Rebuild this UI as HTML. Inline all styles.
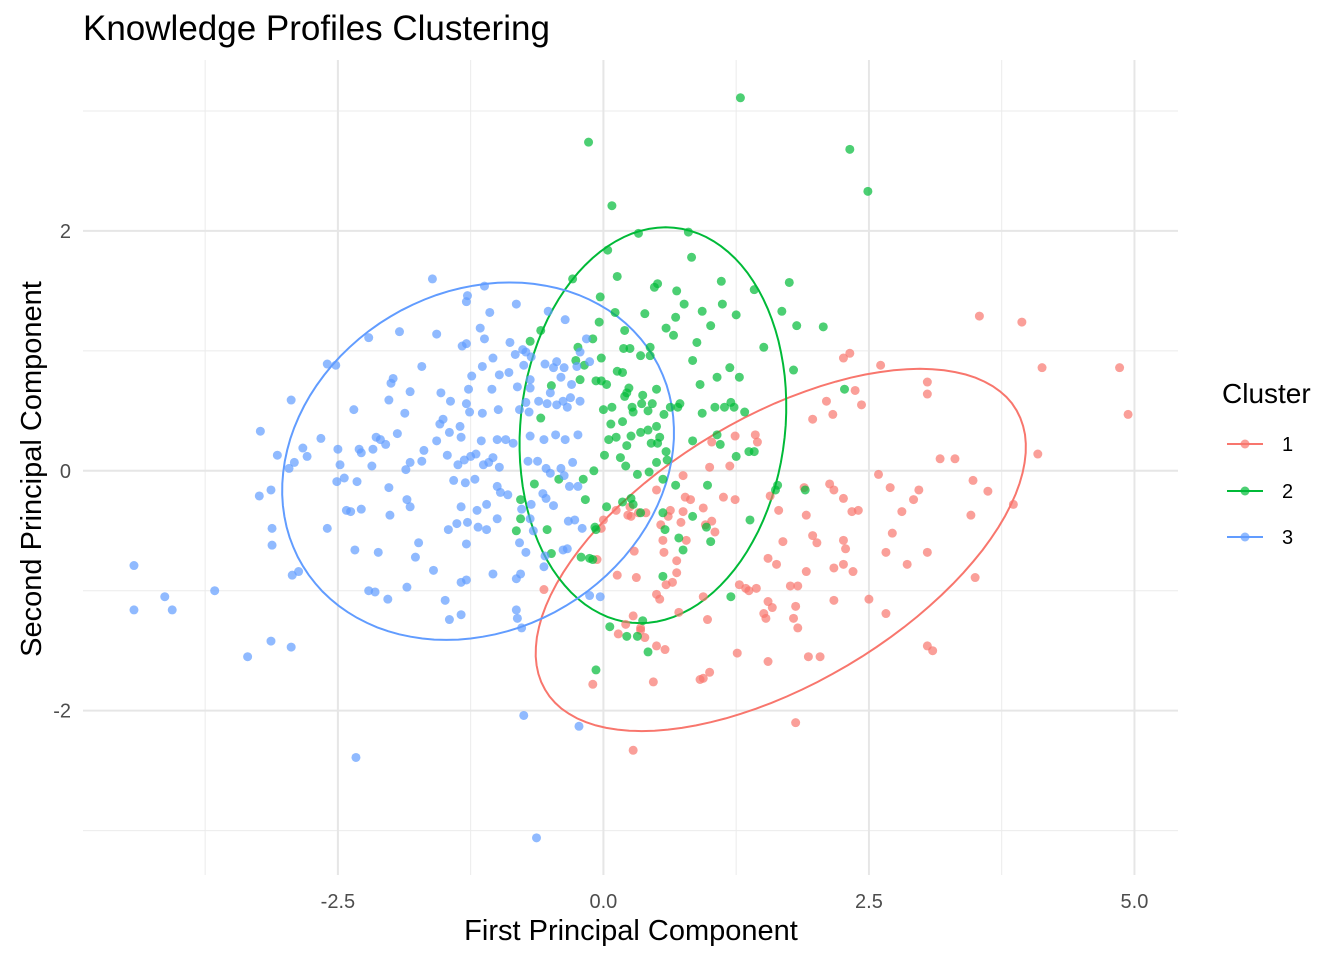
<!DOCTYPE html>
<html><head><meta charset="utf-8"><style>
body{margin:0;background:#fff;}
svg text{font-family:"Liberation Sans",Arial,sans-serif;}
</style></head><body>
<svg id="chart" width="1344" height="960" viewBox="0 0 1344 960" xmlns="http://www.w3.org/2000/svg">
<rect width="1344" height="960" fill="#fff"/>
<text x="83" y="40" font-size="35" fill="#000">Knowledge Profiles Clustering</text>
<g id="grid"></g>
<g id="ellipses"></g>
<g id="points"></g>
<g id="axes"></g>
<text x="631" y="940" font-size="29" text-anchor="middle" fill="#000">First Principal Component</text>
<text transform="translate(41,469) rotate(-90)" font-size="29" text-anchor="middle" fill="#000">Second Principal Component</text>
<g id="legend">
<text x="1222" y="403" font-size="28" fill="#000">Cluster</text>
</g>
</svg>
<script>
const xTicks=[-2.5,0,2.5,5];
const xTickLabels=["-2.5","0.0","2.5","5.0"];
const xMinor=[-3.75,-1.25,1.25,3.75];
const yTicks=[-2,0,2];
const yTickLabels=["-2","0","2"];
const yMinor=[-3,-1,1,3];
const clusterNames=["1","2","3"];
const clusterColors=["#F8766D","#00BA38","#619CFF"];
const red=[[3.54,1.29],[3.94,1.24],[4.13,0.86],[4.86,0.86],[4.94,0.47],[4.09,0.14],[3.86,-0.28],[3.50,-0.89],[3.05,-1.46],[3.10,-1.50],[3.31,0.10],[3.17,0.10],[3.05,0.74],[3.05,0.64],[3.46,-0.37],[3.62,-0.17],[3.48,-0.08],[2.97,-0.16],[2.92,-0.24],[2.81,-0.34],[2.86,-0.78],[3.05,-0.68],[2.66,-1.19],[2.50,-1.07],[2.61,0.88],[2.32,0.98],[2.26,0.94],[2.37,0.67],[2.43,0.55],[2.16,0.47],[2.10,0.58],[1.97,0.43],[2.59,-0.03],[2.70,-0.14],[2.72,-0.52],[2.66,-0.68],[2.34,-0.34],[2.40,-0.33],[2.28,-0.65],[2.35,-0.84],[2.26,-0.78],[2.17,-0.81],[2.13,-0.11],[2.17,-0.16],[2.26,-0.23],[1.91,-0.37],[1.97,-0.54],[2.01,-0.60],[1.89,-0.14],[2.17,-1.08],[2.04,-1.55],[1.93,-1.55],[1.81,-2.10],[2.26,-0.58],[1.83,-0.96],[1.91,-0.84],[1.76,-0.96],[1.81,-1.13],[1.79,-1.23],[1.83,-1.31],[1.69,-0.59],[1.65,-0.33],[1.57,-0.21],[1.55,-0.73],[1.63,-0.78],[1.55,-1.09],[1.59,-1.14],[1.53,-1.23],[1.51,-1.19],[1.55,-1.59],[1.44,-0.98],[1.34,-0.98],[1.26,-1.52],[1.28,-0.95],[1.37,-1.00],[1.43,0.30],[1.45,0.24],[1.24,0.29],[1.19,0.04],[1.13,-0.22],[1.24,-0.24],[1.05,-0.51],[0.94,-0.31],[1.02,-0.42],[0.96,-0.45],[1.02,0.24],[1.00,0.03],[0.94,-1.05],[0.98,-1.24],[0.94,-1.73],[1.00,-1.68],[0.91,-1.74],[0.82,-0.24],[0.75,-0.34],[0.73,-0.43],[0.77,-0.22],[0.78,-0.58],[0.69,-0.75],[0.69,-0.85],[0.65,-0.93],[0.59,-0.95],[0.53,-1.07],[0.50,-1.03],[0.71,-1.18],[0.58,-1.49],[0.50,-1.46],[0.47,-1.76],[0.39,-1.39],[0.35,-1.33],[0.28,-2.33],[0.28,-1.21],[0.35,-1.31],[0.21,-1.28],[0.14,-1.36],[0.57,-0.68],[0.56,-0.58],[0.54,-0.45],[0.61,-0.38],[0.63,-0.33],[0.40,-0.35],[0.33,-0.35],[0.26,-0.38],[0.23,-0.37],[0.12,-0.33],[0.25,-0.30],[0.31,-0.89],[0.13,-0.87],[0.29,-0.67],[0.00,-0.41],[-0.06,-0.74],[-0.10,-1.78],[-0.56,-0.99],[-0.02,-0.48],[0.75,-0.04],[0.50,-0.16]];
const green=[[1.29,3.11],[-0.14,2.74],[2.32,2.68],[2.49,2.33],[0.08,2.21],[0.33,1.98],[0.80,1.99],[0.04,1.84],[0.83,1.78],[0.13,1.62],[-0.29,1.60],[0.51,1.56],[0.48,1.53],[0.69,1.50],[1.11,1.58],[1.42,1.51],[1.75,1.57],[0.76,1.39],[-0.03,1.45],[1.12,1.39],[0.93,1.33],[1.25,1.30],[0.11,1.32],[1.68,1.33],[-0.04,1.24],[0.39,1.31],[0.68,1.28],[1.82,1.21],[2.07,1.20],[1.01,1.21],[0.59,1.19],[0.20,1.17],[-0.59,1.17],[0.66,1.13],[-0.10,1.10],[-0.24,1.03],[-0.69,1.08],[0.88,1.07],[1.51,1.03],[0.19,1.02],[0.25,1.02],[0.44,1.03],[0.35,0.96],[0.44,0.96],[-0.02,0.94],[0.84,0.92],[1.79,0.84],[1.19,0.86],[-0.18,0.88],[-0.26,0.92],[0.13,0.83],[-0.07,0.75],[-0.02,0.75],[0.03,0.72],[0.18,0.82],[-0.22,0.76],[1.07,0.78],[1.28,0.78],[0.91,0.72],[0.50,0.68],[0.24,0.69],[0.22,0.65],[0.37,0.63],[-0.49,0.71],[0.20,0.62],[0.08,0.53],[0.00,0.51],[0.27,0.53],[0.36,0.56],[0.46,0.56],[0.07,0.39],[0.28,0.49],[0.72,0.56],[0.70,0.53],[1.20,0.57],[1.23,0.53],[1.33,0.49],[1.05,0.53],[1.14,0.53],[0.93,0.48],[0.63,0.53],[0.57,0.47],[0.18,0.41],[0.42,0.50],[0.42,0.34],[0.35,0.32],[0.26,0.29],[0.12,0.28],[0.05,0.26],[0.50,0.37],[0.53,0.28],[1.07,0.30],[0.84,0.25],[0.45,0.23],[0.22,0.21],[0.51,0.23],[1.10,0.22],[1.42,0.16],[1.37,0.16],[1.25,0.12],[0.59,0.16],[0.50,0.07],[0.60,0.09],[0.01,0.13],[0.16,0.11],[-0.19,-0.07],[-0.09,0.00],[0.21,0.04],[0.43,-0.01],[0.32,-0.03],[-0.42,-0.07],[0.56,-0.07],[1.64,-0.12],[1.62,-0.16],[1.90,-0.16],[0.98,-0.12],[0.68,-0.12],[0.26,-0.23],[-0.17,-0.24],[0.28,-0.28],[0.18,-0.26],[0.03,-0.30],[0.35,-0.35],[0.56,-0.35],[0.84,-0.38],[1.38,-0.41],[0.97,-0.47],[0.71,-0.56],[1.01,-0.59],[0.58,-0.49],[-0.08,-0.47],[-0.07,-0.49],[-0.21,-0.72],[0.56,-0.88],[0.75,-0.66],[-0.13,-0.73],[-0.10,-0.74],[1.20,-1.05],[0.06,-1.30],[0.37,-1.25],[0.22,-1.38],[0.32,-1.38],[-0.07,-1.66],[0.42,-1.51],[-0.82,-0.50],[-0.78,-0.24],[-0.78,-0.40],[-0.65,-0.11],[-0.53,-0.49],[-0.49,-0.69],[-0.59,0.44],[2.27,0.68]];
const blue=[[-1.61,1.60],[-1.28,1.46],[-1.12,1.54],[-0.82,1.39],[-1.29,1.41],[-1.07,1.32],[-0.52,1.33],[-1.57,1.14],[-1.92,1.16],[-2.21,1.11],[-1.16,1.19],[-0.88,1.07],[-0.36,1.26],[-0.16,1.10],[-1.33,1.04],[-1.29,1.06],[-1.12,1.10],[-0.73,0.99],[-0.68,0.95],[-0.55,0.89],[-0.47,0.86],[-0.44,0.91],[-0.22,0.99],[-0.37,0.86],[-2.60,0.89],[-2.52,0.88],[-1.98,0.77],[-1.71,0.87],[-1.24,0.79],[-1.14,0.87],[-1.04,0.94],[-0.98,0.80],[-0.83,0.97],[-0.76,1.01],[-0.89,0.82],[-0.75,0.88],[-0.69,0.76],[-0.81,0.70],[-0.13,0.91],[-0.25,0.87],[-0.30,0.72],[-0.40,0.78],[-0.50,0.65],[-0.69,0.69],[-2.00,0.73],[-2.02,0.59],[-1.82,0.66],[-1.53,0.65],[-1.27,0.68],[-1.05,0.68],[-1.29,0.56],[-1.44,0.58],[-2.94,0.59],[-2.35,0.51],[-1.87,0.48],[-1.51,0.43],[-1.26,0.49],[-1.14,0.48],[-0.99,0.51],[-0.79,0.51],[-0.70,0.49],[-0.44,0.55],[-0.31,0.61],[-0.34,0.53],[-0.22,0.58],[-0.38,0.58],[-0.53,0.56],[-0.73,0.57],[-0.61,0.58],[-3.23,0.33],[-2.66,0.27],[-2.83,0.19],[-2.79,0.12],[-3.07,0.13],[-2.91,0.07],[-2.96,0.02],[-2.50,0.18],[-2.30,0.18],[-2.14,0.28],[-2.10,0.26],[-2.05,0.22],[-1.94,0.31],[-2.28,0.15],[-2.17,0.18],[-1.69,0.17],[-1.57,0.25],[-1.54,0.39],[-1.35,0.37],[-1.34,0.28],[-1.45,0.32],[-1.15,0.25],[-1.00,0.26],[-0.92,0.26],[-0.85,0.23],[-0.69,0.29],[-0.56,0.26],[-0.45,0.30],[-0.36,0.26],[-0.24,0.30],[-1.71,0.08],[-1.82,0.07],[-1.86,0.01],[-1.47,0.13],[-1.37,0.05],[-1.31,0.09],[-1.25,0.12],[-1.20,0.14],[-1.13,0.05],[-1.08,0.07],[-1.04,0.11],[-0.98,0.03],[-2.48,0.05],[-2.44,-0.06],[-2.51,-0.09],[-2.32,-0.09],[-2.18,0.04],[-0.71,0.08],[-0.62,0.08],[-0.54,0.02],[-0.50,-0.02],[-0.29,0.07],[-0.40,0.02],[-0.37,-0.04],[-0.32,-0.13],[-0.24,-0.13],[-3.24,-0.21],[-3.13,-0.16],[-2.02,-0.14],[-1.41,-0.08],[-1.30,-0.10],[-1.21,-0.07],[-1.00,-0.13],[-0.97,-0.18],[-0.90,-0.20],[-0.57,-0.19],[-0.54,-0.23],[-0.47,-0.29],[-1.85,-0.24],[-1.82,-0.30],[-2.28,-0.32],[-2.42,-0.33],[-2.38,-0.34],[-2.01,-0.37],[-1.34,-0.30],[-1.19,-0.33],[-1.10,-0.28],[-1.00,-0.40],[-0.77,-0.32],[-0.68,-0.28],[-0.69,-0.40],[-3.12,-0.48],[-2.60,-0.48],[-1.46,-0.49],[-1.38,-0.44],[-1.28,-0.43],[-1.18,-0.47],[-1.10,-0.49],[-0.66,-0.50],[-0.33,-0.42],[-0.27,-0.41],[-0.20,-0.48],[-3.12,-0.62],[-2.34,-0.66],[-2.12,-0.68],[-1.77,-0.72],[-1.74,-0.60],[-1.29,-0.61],[-0.79,-0.60],[-0.73,-0.68],[-0.55,-0.71],[-0.38,-0.66],[-0.34,-0.65],[-1.60,-0.83],[-2.93,-0.87],[-2.87,-0.84],[-4.42,-0.79],[-0.78,-0.86],[-1.04,-0.86],[-0.82,-0.90],[-0.56,-0.80],[-3.66,-1.00],[-4.13,-1.05],[-4.42,-1.16],[-4.06,-1.16],[-2.21,-1.00],[-2.15,-1.01],[-2.03,-1.07],[-1.85,-0.97],[-1.34,-0.93],[-1.29,-0.91],[-1.49,-1.08],[-0.82,-1.16],[-1.34,-1.20],[-1.45,-1.24],[-0.81,-1.23],[-0.77,-1.31],[-3.13,-1.42],[-2.94,-1.47],[-3.35,-1.55],[-0.75,-2.04],[-0.23,-2.13],[-2.33,-2.39],[-0.63,-3.06],[-0.13,-1.04],[-0.03,-1.05]];
// ellipse params: x = cx + A cos t + B sin t, y = cy + C sin t
const ellipseCx=[1.67,0.466,-1.18];
const ellipseCy=[-0.66,0.38,0.08];
const ellipseA=[1.90,1.25,1.82];
const ellipseB=[1.31,0.12,0.30];
const ellipseC=[1.51,1.65,1.49];

const NS="http://www.w3.org/2000/svg";
const X0=83,X1=1178,Y0=60,Y1=875;
const xMin=-4.90,xMax=5.41,yMin=-3.37,yMax=3.425;
function sx(v){return X0+(v-xMin)/(xMax-xMin)*(X1-X0);}
function sy(v){return Y1-(v-yMin)/(yMax-yMin)*(Y1-Y0);}
function mk(tag,attrs,parent){const e=document.createElementNS(NS,tag);for(const k in attrs)e.setAttribute(k,attrs[k]);parent.appendChild(e);return e;}
const grid=document.getElementById('grid');
xMinor.forEach(v=>{const l=mk('line',{x1:sx(v),x2:sx(v),y1:Y0,y2:Y1,stroke:'#ebebeb','stroke-width':1},grid);

});
yMinor.forEach(v=>{const l=mk('line',{x1:X0,x2:X1,y1:sy(v),y2:sy(v),stroke:'#ebebeb','stroke-width':1},grid);

});
xTicks.forEach(v=>{const l=mk('line',{x1:sx(v),x2:sx(v),y1:Y0,y2:Y1,stroke:'#e6e6e6','stroke-width':2},grid);

});
yTicks.forEach(v=>{const l=mk('line',{x1:X0,x2:X1,y1:sy(v),y2:sy(v),stroke:'#e6e6e6','stroke-width':2},grid);

});
const axes=document.getElementById('axes');
xTicks.forEach((v,i)=>{const t=mk('text',{x:sx(v),y:908,'font-size':20,'text-anchor':'middle',fill:'#4d4d4d'},axes);t.textContent=xTickLabels[i];

});
yTicks.forEach((v,i)=>{const t=mk('text',{x:71,y:sy(v)+7,'font-size':20,'text-anchor':'end',fill:'#4d4d4d'},axes);t.textContent=yTickLabels[i];

});
const pts=document.getElementById('points');
[red,green,blue].forEach((arr,ci)=>{arr.forEach(p=>{const c=mk('circle',{cx:sx(p[0]),cy:sy(p[1]),r:4.5,fill:clusterColors[ci],'fill-opacity':0.7},pts);

});});
const ell=document.getElementById('ellipses');
for(let i=0;i<3;i++){let d='';for(let k=0;k<=100;k++){const t=k/100*2*Math.PI;const x=ellipseCx[i]+ellipseA[i]*Math.cos(t)+ellipseB[i]*Math.sin(t);const y=ellipseCy[i]+ellipseC[i]*Math.sin(t);d+=(k?'L':'M')+sx(x).toFixed(1)+','+sy(y).toFixed(1);}
const p=mk('path',{d:d+'Z',fill:'none',stroke:clusterColors[i],'stroke-width':2},ell);

}
const lg=document.getElementById('legend');
const legendY=[444,491,537];
clusterNames.forEach((n,i)=>{const g=mk('g',{},lg);


mk('line',{x1:1227,x2:1263,y1:legendY[i],y2:legendY[i],stroke:clusterColors[i],'stroke-width':2},g);
mk('circle',{cx:1245,cy:legendY[i],r:4.5,fill:clusterColors[i],'fill-opacity':0.7},g);
const t=mk('text',{x:1282,y:legendY[i]+7,'font-size':20,fill:'#000'},g);t.textContent=n;});
</script>
</body></html>
